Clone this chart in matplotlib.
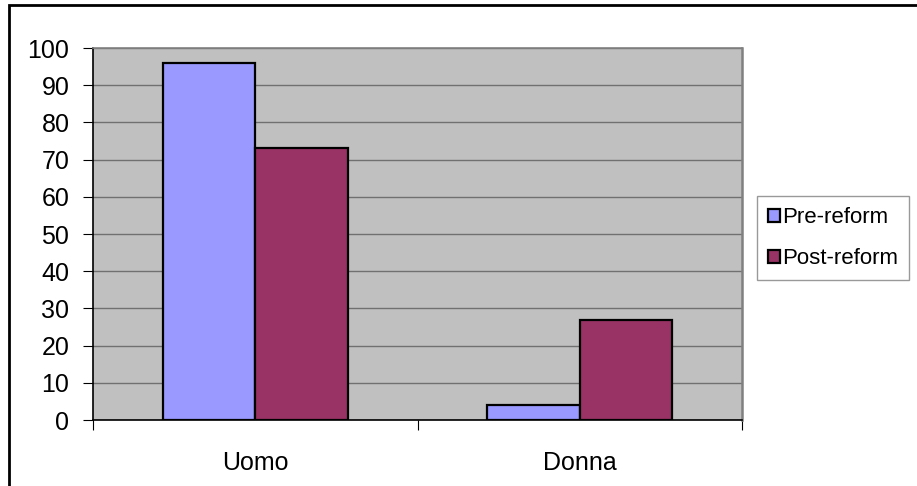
import matplotlib.pyplot as plt
from matplotlib.patches import Patch, Rectangle
import numpy as np

plt.rcParams['font.family'] = ['Liberation Sans', 'DejaVu Sans']

categories = ['Uomo', 'Donna']
pre_reform = [96, 4]
post_reform = [73, 27]
series_names = ['Pre-reform', 'Post-reform']
colors = ['#9999FF', '#993366']

W, H = 917, 486
fig = plt.figure(figsize=(W / 100, H / 100), dpi=100)

# outer chart frame (runs off right and bottom edges)
fig.patches.append(Rectangle((9 / W, -0.1), 1.2, (H - 5) / H + 0.1,
                             transform=fig.transFigure, fill=False,
                             edgecolor='black', linewidth=2, zorder=0))

ax = fig.add_axes([93 / W, (H - 420) / H, 649 / W, 372 / H])
ax.set_facecolor('#C0C0C0')

x = np.arange(len(categories))
bw = 0.285
ax.bar(x - bw / 2, pre_reform, bw, color=colors[0], edgecolor='black',
       linewidth=1.6, zorder=3)
ax.bar(x + bw / 2, post_reform, bw, color=colors[1], edgecolor='black',
       linewidth=1.6, zorder=3)

ax.set_xlim(-0.5, 1.5)
ax.set_ylim(0, 100)
ax.set_yticks(range(0, 101, 10))
ax.yaxis.grid(True, color='#707070', linewidth=1.0, zorder=1)
ax.set_axisbelow(True)

# category separators as major ticks, labels on minor ticks
ax.set_xticks([-0.5, 0.5, 1.5])
ax.set_xticklabels([])
ax.set_xticks(x, minor=True)
ax.set_xticklabels(categories, minor=True)
ax.tick_params(axis='x', which='major', length=7, width=0.8, direction='out')
ax.tick_params(axis='x', which='minor', length=0, pad=22, labelsize=18)
ax.tick_params(axis='y', length=7, width=0.8, direction='out', pad=10,
               labelsize=18)

for side in ['left', 'bottom']:
    ax.spines[side].set_color('black')
    ax.spines[side].set_linewidth(1.2)
ax.spines['right'].set_color('#808080')
ax.spines['right'].set_linewidth(1.8)
ax.spines['top'].set_color('#808080')
ax.spines['top'].set_linewidth(1.2)

handles = [Patch(facecolor=c, edgecolor='black', linewidth=1.6) for c in colors]
leg = fig.legend(handles, series_names, loc='upper left',
                 bbox_to_anchor=(757 / W, 1 - 196 / H), borderaxespad=0,
                 fontsize=16, frameon=True, fancybox=False,
                 handlelength=0.55, handleheight=0.55, handletextpad=0.08,
                 labelspacing=0.9, borderpad=0.5)
leg.get_frame().set_edgecolor('#808080')
leg.get_frame().set_linewidth(1.0)

fig.savefig('out.png', dpi=100)
